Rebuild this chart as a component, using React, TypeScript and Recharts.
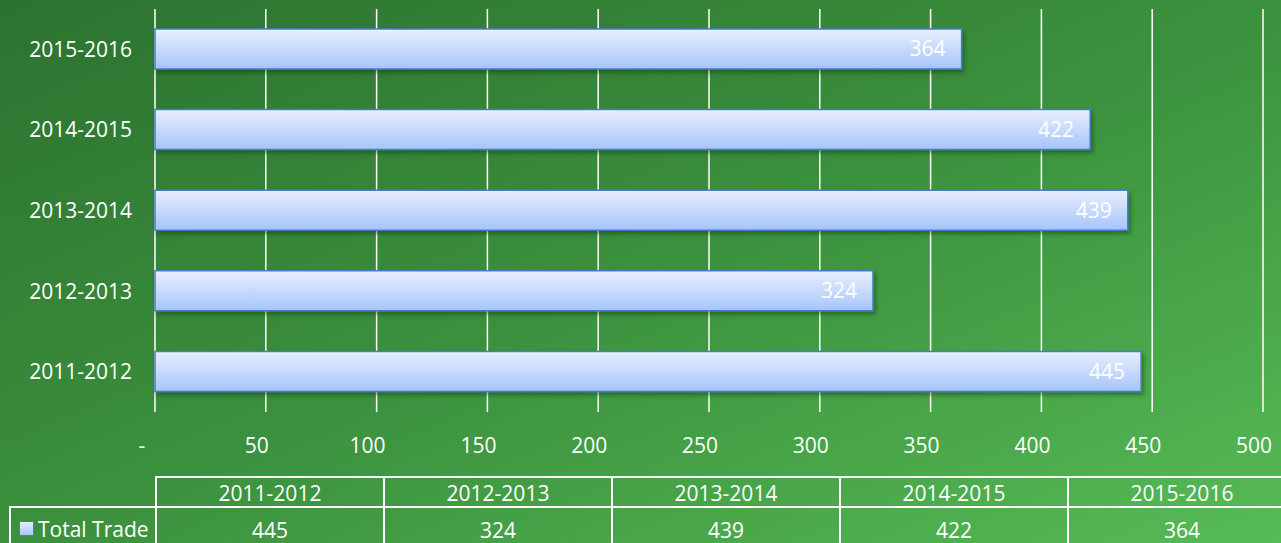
import { Bar, BarChart, CartesianGrid, LabelList, XAxis, YAxis } from "recharts";

const years = ["2011-2012", "2012-2013", "2013-2014", "2014-2015", "2015-2016"];
const totalTrade = [445, 324, 439, 422, 364];
const xTicks = [0, 50, 100, 150, 200, 250, 300, 350, 400, 450, 500];
const seriesName = "Total Trade";

const data = years.map((year, i) => ({ year, value: totalTrade[i] }));

const W = 1281;
const H = 543;
const font = "'Open Sans', sans-serif";
const FS = 21;
const PLOT_LEFT = 155;
const PLOT_RIGHT = 1263;
const PLOT_BOTTOM = 412;
const X_AXIS_H = 30;
const COL_W = 228;

function XTick(props: any) {
  const { x, y, payload } = props;
  const label = payload.value === 0 ? "-" : String(payload.value);
  return (
    <text x={payload.value === 0 ? x - 13 : x - 9} y={y + 25} textAnchor="middle" dominantBaseline="central" fill="#ffffff" fontSize={FS} fontFamily={font}>
      {label}
    </text>
  );
}

function DataTable() {
  const line = "2px solid #ffffff";
  const cell = {
    position: "absolute" as const,
    boxSizing: "border-box" as const,
    color: "#ffffff",
    fontFamily: font,
    fontSize: FS,
    textAlign: "center" as const,
    display: "flex",
    alignItems: "center",
    justifyContent: "center",
  };
  return (
    <>
      {years.map((year, i) => (
        <div key={year} style={{ ...cell, left: PLOT_LEFT + i * COL_W, top: 476, width: COL_W + 2, height: 32, borderTop: line, borderLeft: line, borderRight: line }}>
          {year}
        </div>
      ))}
      <div style={{ ...cell, left: 9, top: 506, width: PLOT_LEFT - 7, height: 45, border: line, justifyContent: "flex-start", paddingLeft: 8 }}>
        <span style={{ display: "inline-block", width: 13, height: 13, marginRight: 4, background: "linear-gradient(#e6eeff, #a7c6fb)", border: "1.5px solid #4a7cc4" }} />
        {seriesName}
      </div>
      {totalTrade.map((v, i) => (
        <div key={years[i]} style={{ ...cell, left: PLOT_LEFT + i * COL_W, top: 506, width: COL_W + 2, height: 45, borderTop: line, borderLeft: line, borderRight: line }}>
          {v}
        </div>
      ))}
    </>
  );
}

export default function App() {
  return (
    <div
      style={{
        position: "absolute",
        left: 0,
        top: 0,
        width: W,
        height: H,
        overflow: "hidden",
        background: "linear-gradient(to bottom right, #2c7230 0%, #3b903d 50%, #56bb56 100%)",
      }}
    >
      <BarChart
        width={W}
        height={H}
        data={data}
        layout="vertical"
        margin={{ top: 9, right: W - PLOT_RIGHT, bottom: H - PLOT_BOTTOM - X_AXIS_H, left: 0 }}
        barSize={40}
      >
        <defs>
          <linearGradient id="barFill" x1="0" y1="0" x2="0" y2="1">
            <stop offset="0%" stopColor="#e8efff" />
            <stop offset="100%" stopColor="#a6c4fa" />
          </linearGradient>
          <filter id="barShadow" x="-5%" y="-20%" width="110%" height="160%">
            <feDropShadow dx="2" dy="3" stdDeviation="2" floodColor="#0b300d" floodOpacity={0.45} />
          </filter>
        </defs>
        <CartesianGrid horizontal={false} stroke="#ffffff" strokeWidth={1.5} verticalValues={xTicks} />
        <XAxis type="number" domain={[0, 500]} ticks={xTicks} height={X_AXIS_H} axisLine={false} tickLine={false} tick={<XTick />} interval={0} />
        <YAxis
          type="category"
          dataKey="year"
          reversed
          width={PLOT_LEFT}
          axisLine={false}
          tickLine={false}
          tickMargin={17}
          tick={{ fill: "#ffffff", fontSize: FS, fontFamily: font }}
        />
        <Bar dataKey="value" name={seriesName} fill="url(#barFill)" stroke="#4a7cc4" strokeWidth={1.5} filter="url(#barShadow)" isAnimationActive={false}>
          <LabelList dataKey="value" position="insideRight" offset={16} fill="#ffffff" fontSize={FS} fontFamily={font} />
        </Bar>
      </BarChart>
      <DataTable />
    </div>
  );
}
